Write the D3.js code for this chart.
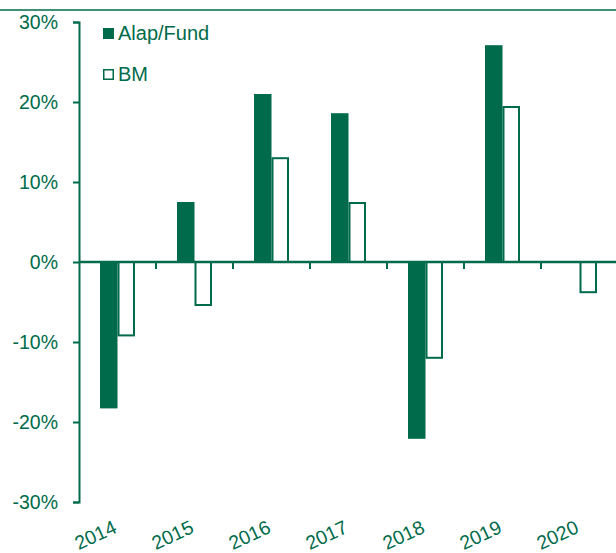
<!DOCTYPE html>
<html>
<head>
<meta charset="utf-8">
<script src="https://cdn.jsdelivr.net/npm/d3@7"></script>
<style>
  body { margin: 0; background: #fff; }
  svg text { font-family: "Liberation Sans", Arial, sans-serif; fill: #006B4A; }
</style>
</head>
<body>
<svg width="616" height="553"></svg>
<script>
var green = '#006B4A';

// data (percent)
var years = ['2014', '2015', '2016', '2017', '2018', '2019', '2020'];
var fundValues = [-18.3, 7.5, 21.0, 18.6, -22.1, 27.1, null];
var bmValues = [-9.3, -5.5, 13.1, 7.5, -12.1, 19.5, -3.9];
var seriesNames = ['Alap/Fund', 'BM'];
var yTicks = [-30, -20, -10, 0, 10, 20, 30];

var margin = { top: 22, left: 79, bottom: 51, right: -2 };
var svg = d3.select('svg');
var svgWidth = 616, svgHeight = 553;

// thin rule at top of the page
svg.append('line')
    .attr('x1', 0).attr('x2', svgWidth)
    .attr('y1', 10).attr('y2', 10)
    .attr('stroke', green).attr('stroke-width', 1.4);

/////////////////////////////////////////////////////////////////////
//                        SCALES                                   //
/////////////////////////////////////////////////////////////////////
var xScale = d3.scaleBand()
    .domain(years)
    .range([margin.left, svgWidth - margin.right]);

var xSub = d3.scaleBand()
    .domain(seriesNames)
    .range([0, xScale.bandwidth()])
    .paddingOuter(1.2);

var yScale = d3.scaleLinear()
    .domain([-30, 30])
    .range([svgHeight - margin.bottom, margin.top]);

/////////////////////////////////////////////////////////////////////
//                        Y AXIS                                   //
/////////////////////////////////////////////////////////////////////
var yAxis = d3.axisLeft(yScale)
    .tickValues(yTicks)
    .tickSize(6)
    .tickPadding(15)
    .tickFormat(function(d) { return d + '%'; });

svg.append('g')
    .attr('class', 'y axis')
    .attr('transform', 'translate(' + margin.left + ',0)')
    .call(yAxis)
    .call(g => g.select('.domain').attr('stroke', green).attr('stroke-width', 2))
    .call(g => g.selectAll('.tick line').attr('stroke', green).attr('stroke-width', 2))
    .call(g => g.selectAll('.tick text').style('font-size', '19.5px').attr('fill', green));

/////////////////////////////////////////////////////////////////////
//                        BARS                                     //
/////////////////////////////////////////////////////////////////////
var rows = years.map(function(y, i) {
    return { year: y, values: [
        { key: 'Alap/Fund', value: fundValues[i] },
        { key: 'BM', value: bmValues[i] }
    ] };
});

var groups = svg.selectAll('.yearGroup').data(rows)
    .enter().append('g')
    .attr('class', 'yearGroup')
    .attr('transform', d => 'translate(' + xScale(d.year) + ',0)');

groups.selectAll('rect')
    .data(d => d.values.filter(v => v.value !== null))
    .enter().append('rect')
    .each(function(d) {
        var r = d3.select(this);
        var x0 = xSub(d.key), w = xSub.bandwidth();
        var y0 = yScale(Math.max(0, d.value)), h = Math.abs(yScale(d.value) - yScale(0));
        if (d.key === 'BM') {
            r.attr('x', x0 + 1).attr('y', y0 + (d.value < 0 ? 0 : 1))
             .attr('width', w - 2).attr('height', h - 1)
             .attr('fill', '#fff').attr('stroke', green).attr('stroke-width', 2);
        } else {
            r.attr('x', x0).attr('y', y0).attr('width', w).attr('height', h)
             .attr('fill', green);
        }
    });

/////////////////////////////////////////////////////////////////////
//                        X AXIS (zero line)                       //
/////////////////////////////////////////////////////////////////////
svg.append('line')
    .attr('x1', margin.left).attr('x2', svgWidth)
    .attr('y1', yScale(0)).attr('y2', yScale(0))
    .attr('stroke', green).attr('stroke-width', 2.5);

svg.selectAll('.xTick').data(years.slice(1))
    .enter().append('line')
    .attr('class', 'xTick')
    .attr('x1', d => xScale(d)).attr('x2', d => xScale(d))
    .attr('y1', yScale(0)).attr('y2', yScale(0) + 7)
    .attr('stroke', green).attr('stroke-width', 2);

svg.selectAll('.xLabel').data(years)
    .enter().append('text')
    .attr('class', 'xLabel')
    .attr('text-anchor', 'end')
    .attr('transform', d => 'translate(' + (xScale(d) + xScale.bandwidth() / 2 + 0.5) + ',532) rotate(-25)')
    .style('font-size', '19.5px')
    .text(d => d);

/////////////////////////////////////////////////////////////////////
//                        LEGEND                                   //
/////////////////////////////////////////////////////////////////////
var legend = svg.selectAll('.legendItem').data(seriesNames)
    .enter().append('g')
    .attr('class', 'legendItem')
    .attr('transform', (d, i) => 'translate(103,' + (28 + i * 41) + ')');

legend.append('rect')
    .attr('x', d => d === 'BM' ? 0.75 : 0)
    .attr('y', d => d === 'BM' ? 0.75 : 0)
    .attr('width', d => d === 'BM' ? 9.5 : 11)
    .attr('height', d => d === 'BM' ? 9.5 : 11)
    .attr('fill', d => d === 'BM' ? '#fff' : green)
    .attr('stroke', d => d === 'BM' ? green : 'none')
    .attr('stroke-width', 1.5);

legend.append('text')
    .attr('x', 15)
    .attr('y', 11.5)
    .style('font-size', '20px')
    .text(d => d);
</script>
</body>
</html>
